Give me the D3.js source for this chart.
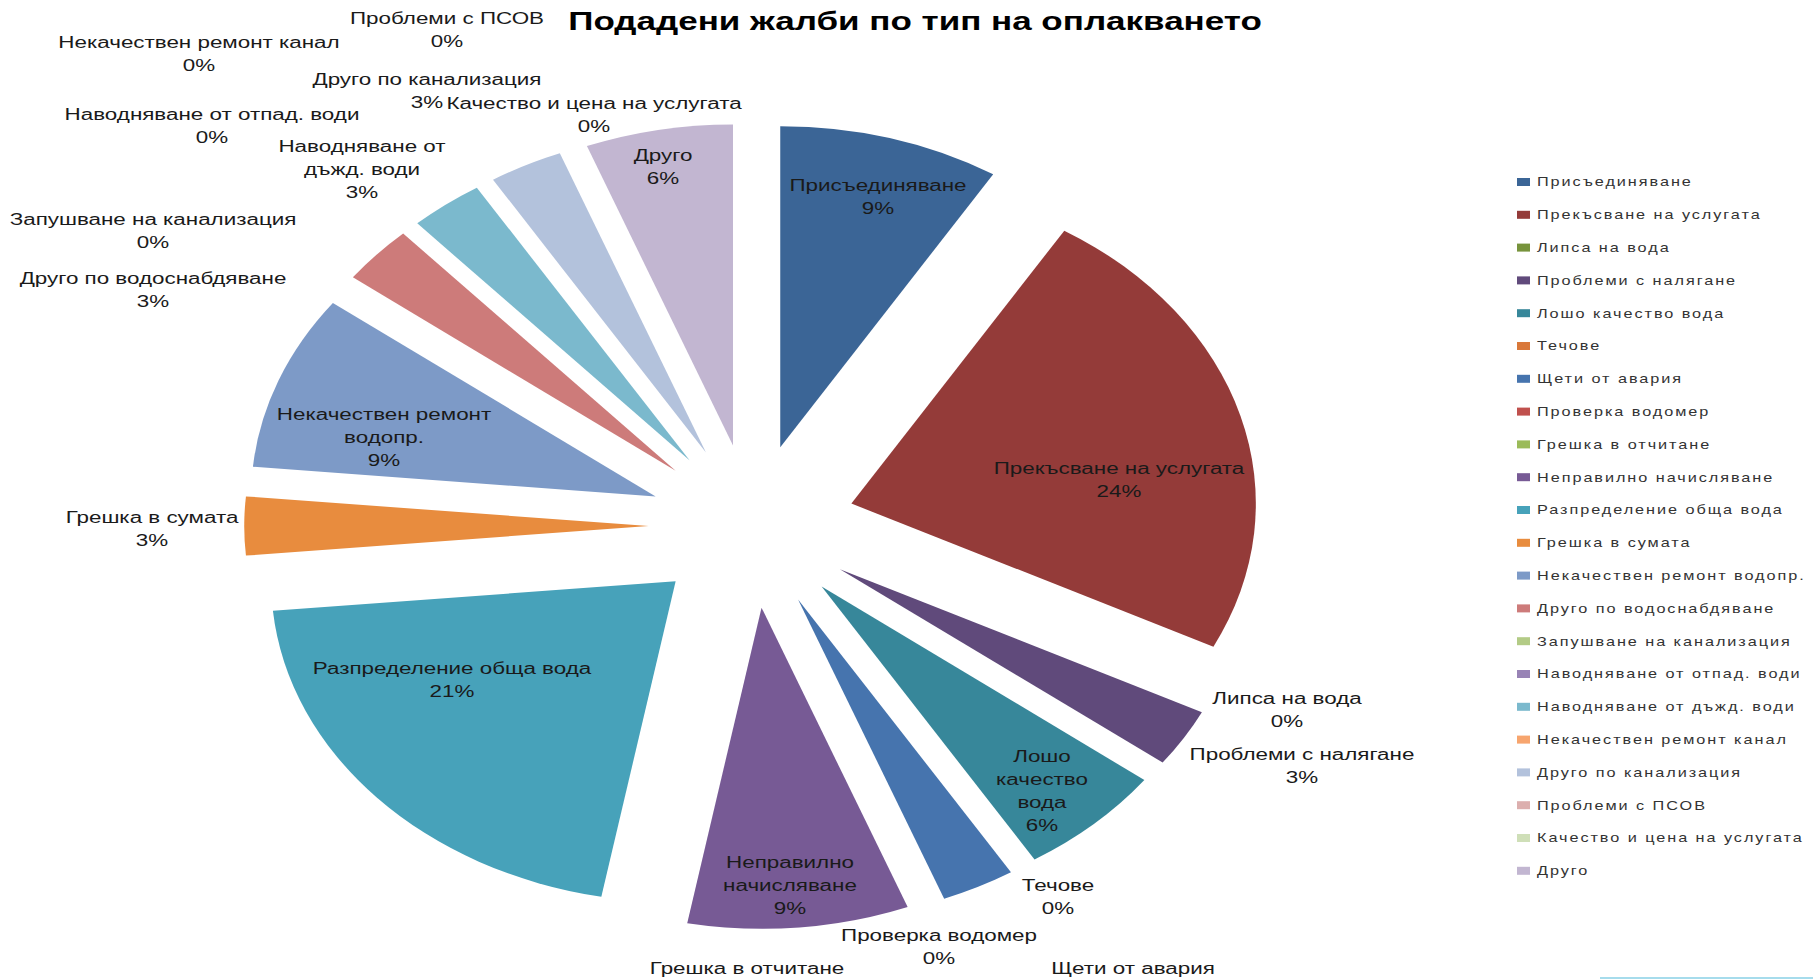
<!DOCTYPE html>
<html>
<head>
<meta charset="utf-8">
<script src="https://cdn.jsdelivr.net/npm/d3@7"></script>
<style>
body { margin: 0; background: #fff; overflow: hidden; }
svg text { font-family: "Liberation Sans", Arial, sans-serif; }
</style>
</head>
<body>
<svg id="chart"></svg>
<script>
const TITLE = "Подадени жалби по тип на оплакването";

const CATEGORIES = [
    "Присъединяване", "Прекъсване на услугата", "Липса на вода", "Проблеми с налягане",
    "Лошо качество вода", "Течове", "Щети от авария", "Проверка водомер",
    "Грешка в отчитане", "Неправилно начисляване", "Разпределение обща вода", "Грешка в сумата",
    "Некачествен ремонт водопр.", "Друго по водоснабдяване", "Запушване на канализация",
    "Наводняване от отпад. води", "Наводняване от дъжд. води", "Некачествен ремонт канал",
    "Друго по канализация", "Проблеми с ПСОВ", "Качество и цена на услугата", "Друго"
];

// number of complaints per type (total 34)
const COUNTS = [3, 8, 0, 1, 2, 0, 1, 0, 0, 3, 7, 1, 3, 1, 0, 0, 1, 0, 1, 0, 0, 2];

const COLORS = [
    "#3b6596", "#943b39", "#77933c", "#604a7b", "#37879a", "#d9783a", "#4674ae", "#c0504d",
    "#9bbb59", "#775a95", "#47a2ba", "#e88c3e", "#7d9ac7", "#cd7b7a", "#b3cb86", "#9883b5",
    "#7bb9cd", "#f7a56e", "#b3c2dc", "#dcafae", "#cfdfb8", "#c2b6d1"
];

// where Excel put each data label (centre of first line) and how the name wraps
const LABEL_LAYOUT = [
    { x: 878, y: 185 }, { x: 1119, y: 468 }, { x: 1287, y: 698 }, { x: 1302, y: 754 },
    { x: 1042, y: 756, wrap: ["Лошо", "качество", "вода"] }, { x: 1058, y: 885 },
    { x: 1133, y: 968 }, { x: 939, y: 935 }, { x: 747, y: 968 },
    { x: 790, y: 862, wrap: ["Неправилно", "начисляване"] }, { x: 452, y: 668 },
    { x: 152, y: 517 }, { x: 384, y: 414, wrap: ["Некачествен ремонт", "водопр."] },
    { x: 153, y: 278 }, { x: 153, y: 219 }, { x: 212, y: 114 },
    { x: 362, y: 146, wrap: ["Наводняване от", "дъжд. води"] }, { x: 199, y: 42 },
    { x: 427, y: 79 }, { x: 447, y: 18 }, { x: 594, y: 103 }, { x: 663, y: 155 }
];

const WIDTH = 1813;
const HEIGHT = 980;
const CX = 752;
const CY = 526;
const RADIUS = 321;
const EXPLODE = 82;
const STRETCH = 1.26;   // the original picture is stretched sideways
const TEXT_STRETCH = 1.4;
const LINE_H = 23;

const svg = d3.select("#chart")
    .attr("width", WIDTH)
    .attr("height", HEIGHT);

const data = CATEGORIES.map(function(c, i) {
    return { name: c, count: COUNTS[i], color: COLORS[i], layout: LABEL_LAYOUT[i] };
});
const total = d3.sum(COUNTS);
const pct = d3.format(".0%");

function stretchedText(parent, x, y, str, anchor, sx) {
    return parent.append("text")
        .attr("transform", "translate(" + x + "," + y + ") scale(" + (sx || TEXT_STRETCH) + ",1)")
        .attr("text-anchor", anchor || "middle")
        .attr("dy", "0.35em")
        .text(str);
}

// title
svg.append("text")
    .attr("transform", "translate(915,30) scale(1.4,1)")
    .attr("text-anchor", "middle")
    .style("font-size", "25px")
    .style("font-weight", "bold")
    .attr("fill", "#000")
    .text(TITLE);

// exploded pie
const pie = d3.pie()
    .value(function(d) { return d.count; })
    .sort(null);

const arc = d3.arc()
    .innerRadius(0)
    .outerRadius(RADIUS);

const pieG = svg.append("g")
    .attr("transform", "translate(" + CX + "," + CY + ") scale(" + STRETCH + ",1)");

pieG.selectAll(".slice")
    .data(pie(data).filter(function(d) { return d.value > 0; }))
    .enter()
    .append("path")
    .attr("class", "slice")
    .attr("transform", function(d) {
        const a = (d.startAngle + d.endAngle) / 2;
        return "translate(" + (EXPLODE * Math.sin(a)) + "," + (-EXPLODE * Math.cos(a)) + ")";
    })
    .attr("d", arc)
    .attr("fill", function(d) { return d.data.color; });

// data labels (lines that fall below the picture are cut off in the original too)
const labels = svg.append("g")
    .style("font-size", "16px")
    .attr("fill", "#1a1a1a");

data.forEach(function(d) {
    const lines = (d.layout.wrap || [d.name]).concat([pct(d.count / total)]);
    lines.forEach(function(line, j) {
        const y = d.layout.y + j * LINE_H;
        if (y + 6 > HEIGHT) return;
        stretchedText(labels, d.layout.x, y, line);
    });
});

// legend
const legend = svg.selectAll(".legend")
    .data(data)
    .enter()
    .append("g")
    .attr("class", "legend")
    .attr("transform", function(d, i) {
        return "translate(1517," + (182 + i * 32.8) + ")";
    });

legend.append("rect")
    .attr("y", -4)
    .attr("width", 13)
    .attr("height", 8)
    .attr("fill", function(d) { return d.color; });

legend.each(function(d) {
    stretchedText(d3.select(this), 20, 0, d.name, "start", 1.3)
        .style("font-size", "12.5px")
        .style("letter-spacing", "1.5px")
        .attr("fill", "#333");
});

// bit of a cut-off shape at the bottom edge
svg.append("line")
    .attr("x1", 1600).attr("y1", 978)
    .attr("x2", WIDTH).attr("y2", 978)
    .attr("stroke", "#a6dcec")
    .attr("stroke-width", 2);
</script>
</body>
</html>
